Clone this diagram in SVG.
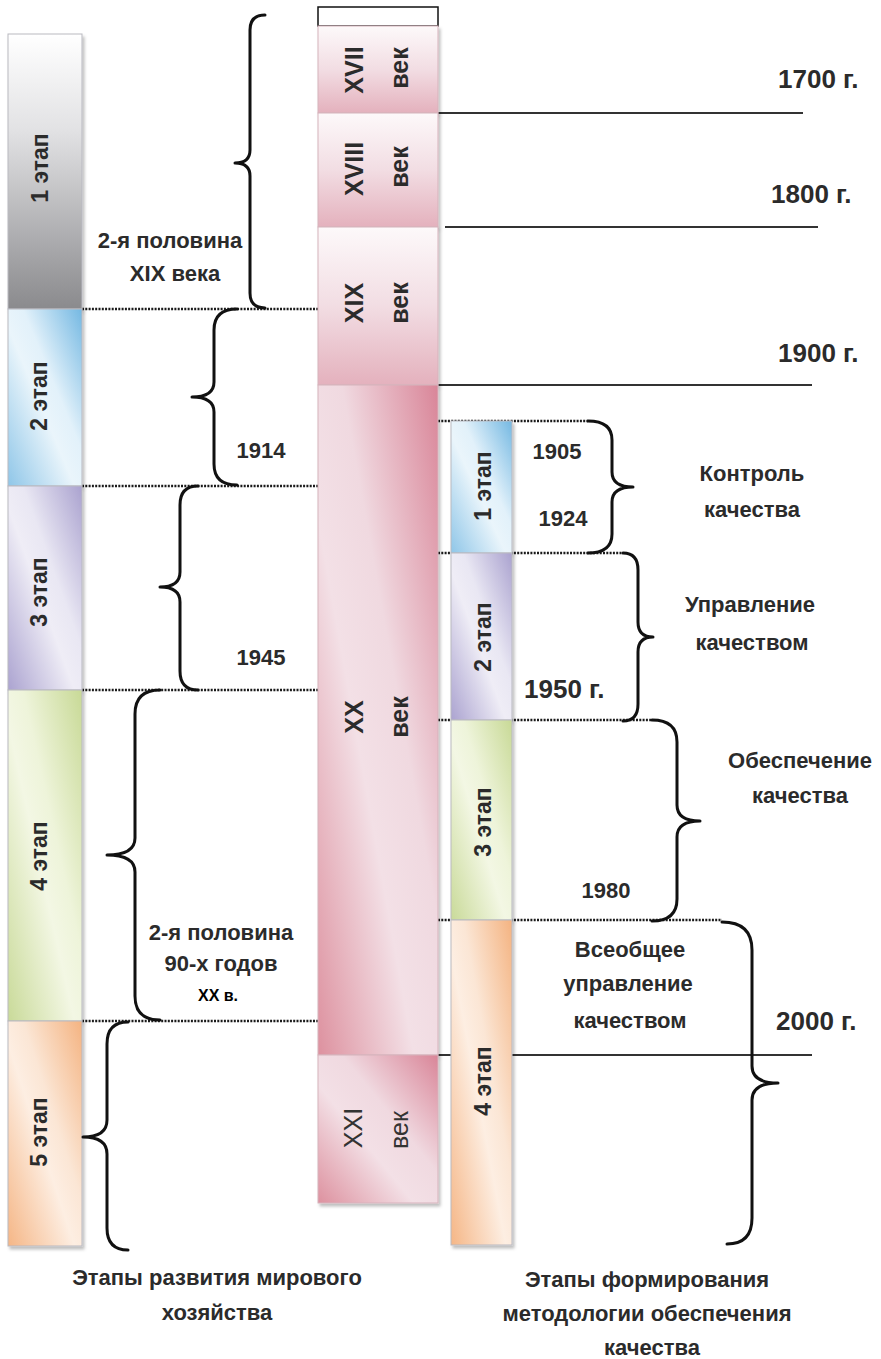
<svg xmlns="http://www.w3.org/2000/svg" width="881" height="1359" viewBox="0 0 881 1359">
<defs>
<style>
.t{font-family:"Liberation Sans",Arial,sans-serif;font-weight:bold;fill:#2b2b2b;}
.big{font-size:26px;}
.mid{font-size:22px;}
.num{font-size:22px;}
.stg{font-size:23px;}
.cen{font-size:25px;}
.cap{font-size:22px;}
.c{text-anchor:middle;}
.brace{fill:none;stroke:#111;stroke-width:3;stroke-linecap:round;stroke-linejoin:round;}
.dot{fill:none;stroke:#1a1a1a;stroke-width:2.5;stroke-dasharray:2 1.3;}
.hl{fill:none;stroke:#333;stroke-width:2;}
.bar{stroke:#b9b9c0;stroke-width:1;}
.pk{stroke:#d6b3bc;stroke-width:1;}
</style>
<filter id="sh" x="-10%" y="-5%" width="130%" height="115%">
<feDropShadow dx="2" dy="3" stdDeviation="1.5" flood-color="#000" flood-opacity="0.25"/>
</filter>
<linearGradient id="gGray" x1="0" y1="0" x2="0" y2="1">
<stop offset="0" stop-color="#ffffff"/><stop offset="0.35" stop-color="#e2e2e4"/><stop offset="1" stop-color="#8a8a8d"/>
</linearGradient>
<linearGradient id="gBlue" x1="0" y1="1" x2="1" y2="0">
<stop offset="0" stop-color="#8fc6e8"/><stop offset="0.45" stop-color="#eaf5fb"/><stop offset="0.6" stop-color="#e2f1fa"/><stop offset="1" stop-color="#74b8e2"/>
</linearGradient>
<linearGradient id="gPurp" x1="0" y1="1" x2="1" y2="0">
<stop offset="0" stop-color="#aba3d0"/><stop offset="0.45" stop-color="#efedf6"/><stop offset="0.6" stop-color="#e9e7f3"/><stop offset="1" stop-color="#aaa2cf"/>
</linearGradient>
<linearGradient id="gGreen" x1="0" y1="1" x2="1" y2="0">
<stop offset="0" stop-color="#c9da99"/><stop offset="0.45" stop-color="#f3f7e4"/><stop offset="0.6" stop-color="#eef4da"/><stop offset="1" stop-color="#c8d996"/>
</linearGradient>
<linearGradient id="gOrange" x1="0" y1="1" x2="1" y2="0">
<stop offset="0" stop-color="#f5b686"/><stop offset="0.45" stop-color="#fdeee2"/><stop offset="0.6" stop-color="#fbe6d5"/><stop offset="1" stop-color="#f4b381"/>
</linearGradient>
<linearGradient id="gPinkV" x1="0" y1="0" x2="0" y2="1">
<stop offset="0" stop-color="#fdf9fa"/><stop offset="0.5" stop-color="#f2dde3"/><stop offset="1" stop-color="#e4b1bd"/>
</linearGradient>
<linearGradient id="gPinkD" x1="0" y1="1" x2="1" y2="0">
<stop offset="0" stop-color="#dd919f"/><stop offset="0.4" stop-color="#f3e0e6"/><stop offset="0.6" stop-color="#f0d9e0"/><stop offset="1" stop-color="#d98598"/>
</linearGradient>
</defs>
<rect width="881" height="1359" fill="#fff"/>

<g id="lines">
<line class="hl" x1="428" y1="113" x2="803" y2="113"/>
<line class="hl" x1="445" y1="227" x2="818" y2="227"/>
<line class="hl" x1="438" y1="385" x2="812" y2="385"/>
<line class="hl" x1="438" y1="1055" x2="812" y2="1055"/>
</g>

<g id="connectors">
<line class="dot" x1="82" y1="309" x2="318" y2="309"/>
<line class="dot" x1="82" y1="486" x2="318" y2="486"/>
<line class="dot" x1="82" y1="690" x2="318" y2="690"/>
<line class="dot" x1="82" y1="1021" x2="318" y2="1021"/>
<line class="dot" x1="438" y1="421" x2="588" y2="421"/>
<line class="dot" x1="438" y1="553" x2="623" y2="553"/>
<line class="dot" x1="438" y1="720" x2="652" y2="720"/>
<line class="dot" x1="438" y1="920" x2="722" y2="920"/>
</g>

<g id="centuries">
<rect x="318" y="7" width="120" height="19" fill="#fff" stroke="#111" stroke-width="1.5"/>
<g id="c17" filter="url(#sh)"><rect class="pk" x="318" y="26" width="120" height="87" fill="url(#gPinkV)"/></g>
<g id="c18" filter="url(#sh)"><rect class="pk" x="318" y="113" width="120" height="114" fill="url(#gPinkV)"/></g>
<g id="c19" filter="url(#sh)"><rect class="pk" x="318" y="227" width="120" height="158" fill="url(#gPinkV)"/></g>
<g id="c20" filter="url(#sh)"><rect class="pk" x="318" y="385" width="120" height="670" fill="url(#gPinkD)"/></g>
<g id="c21" filter="url(#sh)"><rect class="pk" x="318" y="1055" width="120" height="148" fill="url(#gPinkD)"/></g>
<text class="t cen c" transform="translate(363,70) rotate(-90)">XVII</text>
<text class="t cen c" transform="translate(408,68) rotate(-90)">век</text>
<text class="t cen c" transform="translate(363,169) rotate(-90)">XVIII</text>
<text class="t cen c" transform="translate(408,167) rotate(-90)">век</text>
<text class="t cen c" transform="translate(363,303) rotate(-90)">XIX</text>
<text class="t cen c" transform="translate(408,303) rotate(-90)">век</text>
<text class="t cen c" transform="translate(363,717) rotate(-90)">XX</text>
<text class="t cen c" transform="translate(408,717) rotate(-90)">век</text>
<text class="c" style="font-family:'Liberation Sans',Arial,sans-serif;font-size:25px;fill:#333" transform="translate(362,1128) rotate(-90)">XXI</text>
<text class="c" style="font-family:'Liberation Sans',Arial,sans-serif;font-size:25px;fill:#333" transform="translate(408,1130) rotate(-90)">век</text>
</g>

<g id="world-stages">
<g id="w1" filter="url(#sh)"><rect class="bar" x="8" y="34" width="74" height="275" fill="url(#gGray)" stroke="#777"/></g>
<g id="w2" filter="url(#sh)"><rect class="bar" x="8" y="309" width="74" height="177" fill="url(#gBlue)"/></g>
<g id="w3" filter="url(#sh)"><rect class="bar" x="8" y="486" width="74" height="204" fill="url(#gPurp)"/></g>
<g id="w4" filter="url(#sh)"><rect class="bar" x="8" y="690" width="74" height="331" fill="url(#gGreen)"/></g>
<g id="w5" filter="url(#sh)"><rect class="bar" x="8" y="1021" width="74" height="225" fill="url(#gOrange)"/></g>
<text class="t stg c" transform="translate(48,168) rotate(-90)">1 этап</text>
<text class="t stg c" transform="translate(47,396) rotate(-90)">2 этап</text>
<text class="t stg c" transform="translate(47,592) rotate(-90)">3 этап</text>
<text class="t stg c" transform="translate(47,856) rotate(-90)">4 этап</text>
<text class="t stg c" transform="translate(47,1132) rotate(-90)">5 этап</text>
</g>

<g id="quality-stages">
<g id="q1" filter="url(#sh)"><rect class="bar" x="451" y="421" width="61" height="132" fill="url(#gBlue)"/></g>
<g id="q2" filter="url(#sh)"><rect class="bar" x="451" y="553" width="61" height="167" fill="url(#gPurp)"/></g>
<g id="q3" filter="url(#sh)"><rect class="bar" x="451" y="720" width="61" height="200" fill="url(#gGreen)"/></g>
<g id="q4" filter="url(#sh)"><rect class="bar" x="451" y="920" width="61" height="325" fill="url(#gOrange)"/></g>
<text class="t stg c" transform="translate(491,486) rotate(-90)">1 этап</text>
<text class="t stg c" transform="translate(491,637) rotate(-90)">2 этап</text>
<text class="t stg c" transform="translate(491,822) rotate(-90)">3 этап</text>
<text class="t stg c" transform="translate(491,1081) rotate(-90)">4 этап</text>
</g>

<g id="braces">
<path class="brace" d="M265,15 Q250,15 250,30 L250,150 Q250,163 235,163 Q250,163 250,176 L250,293 Q250,308 265,308"/>
<path class="brace" d="M237,309 Q214,309 214,330 L214,382 Q214,397 192,397 Q214,397 214,412 L214,464 Q214,485 237,485"/>
<path class="brace" d="M198,486 Q180,486 180,505 L180,572 Q180,587 160,587 Q180,587 180,602 L180,671 Q180,690 198,690"/>
<path class="brace" d="M160,690 Q135,690 135,714 L135,838 Q135,855 107,855 Q135,855 135,872 L135,996 Q135,1020 160,1020"/>
<path class="brace" d="M128,1022 Q107,1022 107,1044 L107,1120 Q107,1137 83,1137 Q107,1137 107,1154 L107,1228 Q107,1250 128,1250"/>
<path class="brace" d="M588,421 Q612,421 612,440 L612,472 Q612,487 633,487 Q612,487 612,502 L612,534 Q612,553 588,553"/>
<path class="brace" d="M623,553 Q638,553 638,570 L638,622 Q638,637 653,637 Q638,637 638,652 L638,704 Q638,721 623,721"/>
<path class="brace" d="M652,720 Q677,720 677,742 L677,805 Q677,821 700,821 Q677,821 677,837 L677,899 Q677,921 652,921"/>
<path class="brace" d="M722,922 Q752,922 752,950 L752,1066 Q752,1083 778,1083 Q752,1083 752,1100 L752,1218 Q752,1244 727,1244"/>
</g>

<g id="labels">
<text class="t big" x="778" y="88">1700 г.</text>
<text class="t big" x="771" y="203">1800 г.</text>
<text class="t big" x="778" y="362">1900 г.</text>
<text class="t big" x="776" y="1030">2000 г.</text>
<text class="t big" x="524" y="698">1950 г.</text>
<text class="t mid c" x="170" y="248">2-я половина</text>
<text class="t mid c" x="175" y="281">XIX века</text>
<text class="t num c" x="261" y="458">1914</text>
<text class="t num c" x="261" y="665">1945</text>
<text class="t mid c" x="221" y="940">2-я половина</text>
<text class="t mid c" x="221" y="971">90-х годов</text>
<text class="c" style="font-family:'Liberation Sans',Arial,sans-serif;font-weight:bold;font-size:16px;fill:#000" x="218" y="1001">ХХ в.</text>
<text class="t num c" x="557" y="459">1905</text>
<text class="t num c" x="563" y="526">1924</text>
<text class="t mid c" x="752" y="481">Контроль</text>
<text class="t mid c" x="752" y="517">качества</text>
<text class="t mid c" x="750" y="612">Управление</text>
<text class="t mid c" x="752" y="650">качеством</text>
<text class="t mid c" x="800" y="768">Обеспечение</text>
<text class="t mid c" x="800" y="803">качества</text>
<text class="t num c" x="606" y="898">1980</text>
<text class="t mid c" x="630" y="957">Всеобщее</text>
<text class="t mid c" x="628" y="991">управление</text>
<text class="t mid c" x="630" y="1028">качеством</text>
<text class="t cap c" x="217" y="1285">Этапы развития мирового</text>
<text class="t cap c" x="217" y="1320">хозяйства</text>
<text class="t cap c" x="647" y="1287">Этапы формирования</text>
<text class="t cap c" x="647" y="1321">методологии обеспечения</text>
<text class="t cap c" x="652" y="1355">качества</text>
</g>
</svg>
